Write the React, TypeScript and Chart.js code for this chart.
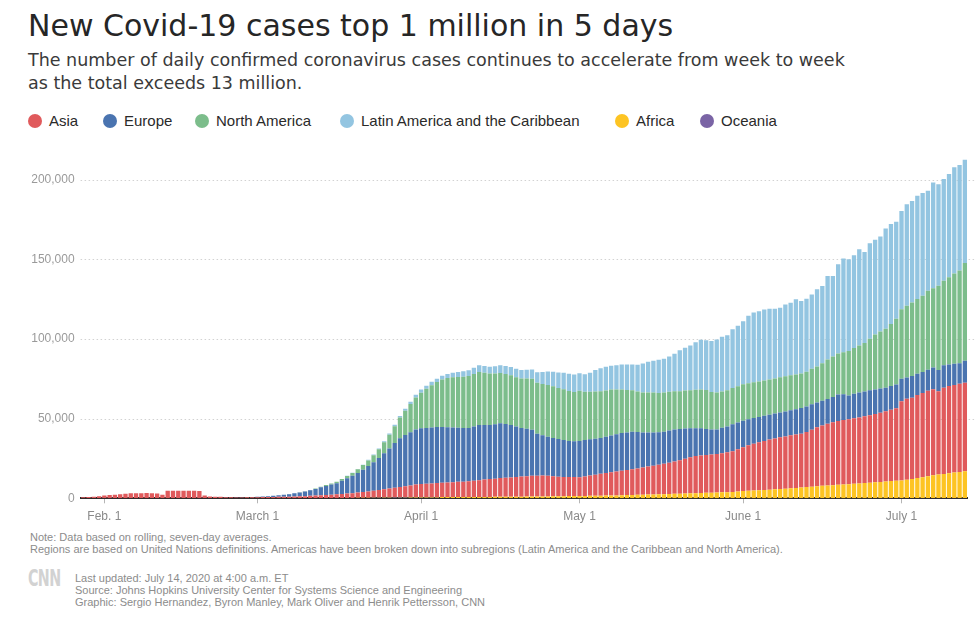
import { useEffect, useRef } from "react";
import { Chart, registerables } from "chart.js";

Chart.register(...registerables);

// Daily series, seven-day rolling averages, Jan 28 – Jul 13, 2020
const FIRST_DAY = Date.UTC(2020, 0, 28);
const DAY_COUNT = 168;

const MONTH_TICKS = ["Feb. 1", "March 1", "April 1", "May 1", "June 1", "July 1"];
const Y_TICKS = [0, 50000, 100000, 150000, 200000];

const asia = [
  600, 800, 1000, 1300, 1800, 2100, 2300, 2500, 2900, 3100, 3200, 3200, 3300, 3200, 3000, 2300, 4700, 4800, 4800, 4800, 4700, 4700, 4600, 1800, 1200, 1000, 900, 700, 600, 550, 550, 600, 650,
  700, 750, 800, 850, 900, 950, 1000, 1100, 1200, 1300, 1500, 1700, 1900, 2000, 2200, 2400, 2600, 2800, 3000, 3300, 3600, 3900, 4200, 4600, 5000, 5400, 5900, 6300, 6800, 7300, 7800,
  8200, 8400, 8500, 8800, 9000, 9100, 9400, 9600, 9700, 10000, 10300, 10500, 10900, 11200, 11400, 11800, 12000, 12100, 12400, 12600, 12700, 13000, 13100, 13200, 12900, 12600, 12300, 12100, 12000, 11900,
  11800, 12200, 12700, 13200, 13700, 14200, 14600, 15000, 15400, 15800, 16200, 16600, 17100, 17600, 18000, 18500, 19000, 19600, 20200, 21000, 21800, 22600, 23300, 23500, 23700, 23900, 24200, 24600, 25000, 25500, 26500,
  27500, 28500, 29300, 30100, 30800, 31400, 31900, 32400, 32800, 33200, 33500, 33800, 34500, 35800, 37000, 37900, 38700, 39500, 40100, 40400, 40700, 41100, 41500, 41900, 42300, 42800, 43400, 44000, 44700, 45500,
  49700, 50800, 51000, 52100, 52800, 53600, 54100, 52300, 54000, 54800, 55000, 55300, 55500,
];

const europe = [
  0, 1, 1, 2, 2, 2, 2, 2, 2, 3, 2, 2, 2, 1, 1, 1, 1, 1, 1, 1, 1, 1, 2, 2, 5, 15, 25, 40, 55, 70, 100, 135, 170,
  300, 380, 450, 700, 1000, 1300, 1600, 2000, 2400, 2900, 3500, 4100, 4900, 5700, 6300, 7000, 8200, 9600, 10900, 12300, 14000, 15900, 18000, 20200, 22700, 25200, 28000, 30600, 32100, 33400, 34600,
  34900, 35000, 35200, 35100, 35000, 34700, 34300, 33900, 33600, 33400, 34000, 34700, 34300, 34000, 34100, 34300, 33600, 32900, 31600, 30400, 29900, 28900, 26300, 25200, 24600, 24000, 23600, 23100, 22600, 22400,
  22750, 22900, 22760, 22500, 22500, 22700, 23050, 23400, 23600, 23500, 23500, 22850, 21950, 21350, 20900, 20400, 20100, 20200, 20100, 19500, 19000, 18300, 17500, 17200, 16400, 15700, 15400, 15900, 16250, 17000, 16800,
  16600, 16300, 16100, 15800, 15700, 15600, 15600, 15600, 15700, 15700, 15900, 16100, 16000, 16000, 15500, 15500, 15600, 15800, 16500, 16200, 14900, 15500, 15600, 15600, 15700, 15400, 15200, 14700, 14900, 14900,
  14100, 13400, 13500, 13300, 13200, 13200, 13500, 13300, 14200, 13400, 13300, 12900, 13800,
];

const northAmerica = [
  0, 0, 0, 0, 1, 1, 1, 1, 1, 1, 1, 1, 1, 0, 0, 0, 0, 0, 0, 0, 0, 1, 1, 1, 1, 1, 1, 1, 1, 1, 2, 3, 4,
  5, 8, 12, 18, 25, 35, 50, 70, 100, 140, 200, 280, 380, 500, 650, 850, 1100, 1400, 1800, 2300, 2900, 3600, 4400, 5400, 6800, 8600, 10600, 13000, 15300, 17600, 20000,
  22300, 24500, 26500, 28300, 29800, 30900, 31500, 31900, 32200, 32500, 32900, 33300, 32800, 32200, 31900, 31600, 31400, 31200, 31000, 31100, 31500, 32000, 32000, 32200, 32400, 32400, 32000, 31900, 31400, 30900,
  31400, 30300, 29800, 29700, 29400, 29100, 28900, 28100, 27300, 26700, 26000, 25400, 25100, 25000, 25000, 24700, 24600, 24300, 24100, 23800, 23800, 23800, 24100, 24300, 24400, 23500, 23100, 22800, 22700, 22700, 22800,
  22900, 22700, 22500, 22300, 22200, 22100, 22100, 22100, 22000, 21900, 21700, 21600, 21900, 22200, 22700, 23500, 24700, 25400, 25800, 26400, 28000, 28600, 29500, 30400, 32300, 34500, 35700, 37100, 39000, 41200,
  43600, 44900, 46200, 46800, 47800, 49500, 49800, 52900, 53000, 54800, 56600, 58100, 61400,
];

const latinAmerica = [
  0, 0, 0, 0, 0, 0, 0, 0, 0, 0, 0, 0, 0, 0, 0, 0, 0, 0, 0, 0, 0, 0, 0, 0, 0, 0, 0, 0, 0, 0, 1, 1, 1,
  1, 2, 2, 3, 4, 5, 6, 8, 10, 13, 17, 22, 30, 40, 55, 75, 100, 130, 170, 220, 280, 350, 430, 520, 620, 740, 880, 1050, 1250, 1500, 1750,
  2000, 2000, 2100, 2100, 2300, 2500, 2800, 3100, 3400, 3700, 4000, 4200, 4200, 4300, 4600, 4900, 5100, 5200, 5200, 5300, 5500, 5800, 6500, 7500, 8500, 9200, 9800, 10300, 10700, 11000,
  11000, 10900, 12000, 13500, 14300, 14900, 14900, 15200, 15700, 16000, 16200, 16800, 18200, 19300, 19900, 20800, 21300, 22200, 23500, 25700, 26800, 28000, 29800, 31200, 31200, 32100, 33300, 34300, 34500, 36800, 37900,
  39500, 42300, 43700, 44100, 44600, 44400, 43700, 43600, 45100, 45600, 47200, 45500, 45800, 46700, 48400, 48500, 52500, 50600, 56000, 58800, 57500, 58300, 60400, 57100, 60000, 59400, 59700, 62900, 62700, 60900,
  61600, 63700, 63700, 64800, 64400, 62700, 66400, 63700, 63800, 64700, 66600, 66300, 64800,
];

const africa = [
  0, 0, 0, 0, 0, 0, 0, 0, 0, 0, 0, 0, 0, 0, 0, 0, 0, 0, 0, 0, 0, 0, 0, 0, 0, 0, 0, 0, 0, 1, 1, 1, 1,
  1, 2, 2, 3, 4, 5, 6, 8, 10, 12, 15, 20, 25, 30, 38, 45, 55, 70, 85, 100, 120, 140, 165, 190, 220, 250, 280, 310, 340, 370, 400,
  430, 450, 470, 490, 510, 530, 560, 590, 620, 650, 690, 730, 770, 810, 850, 880, 910, 940, 970, 1000, 1030, 1060, 1090, 1120, 1160, 1200, 1250, 1300, 1350, 1400,
  1450, 1500, 1540, 1580, 1620, 1680, 1750, 1820, 1900, 1980, 2060, 2150, 2250, 2350, 2430, 2510, 2600, 2700, 2800, 2900, 3000, 3100, 3200, 3300, 3400, 3500, 3600, 3700, 3850, 4000, 4200,
  4500, 4700, 4900, 5100, 5200, 5400, 5600, 5800, 6000, 6300, 6500, 6700, 7000, 7200, 7500, 7800, 8000, 8200, 8400, 8600, 8800, 9000, 9200, 9500, 9700, 10000, 10200, 10500, 10700, 10900,
  11100, 11500, 12000, 12600, 13100, 13700, 14200, 14700, 15100, 15500, 15900, 16300, 16700,
];

const oceania = [
  0, 0, 1, 1, 1, 1, 1, 1, 1, 1, 1, 1, 1, 0, 0, 0, 0, 0, 0, 0, 0, 0, 0, 0, 0, 0, 0, 0, 0, 0, 1, 1, 1,
  2, 2, 3, 4, 5, 6, 8, 10, 12, 15, 20, 25, 30, 40, 50, 60, 80, 100, 130, 170, 210, 250, 300, 350, 390, 420, 440, 450, 440, 420, 390,
  360, 330, 300, 270, 240, 210, 180, 150, 120, 100, 80, 70, 60, 50, 45, 40, 35, 30, 30, 28, 26, 24, 22, 20, 20, 20, 18, 18, 16, 16,
  15, 15, 15, 14, 14, 14, 13, 13, 13, 12, 12, 12, 12, 11, 11, 11, 11, 12, 12, 12, 13, 13, 14, 15, 16, 17, 18, 18, 18, 19, 20,
  20, 20, 21, 21, 22, 22, 23, 24, 25, 26, 27, 28, 30, 32, 34, 36, 38, 40, 43, 46, 50, 55, 60, 66, 72, 80, 90, 100, 110, 120,
  130, 140, 150, 160, 170, 180, 190, 200, 210, 220, 230, 240, 250,
];

const COLORS = {
  asia: "#e05a5c",
  europe: "#4a74b0",
  northAmerica: "#7cbd8b",
  latinAmerica: "#93c5e1",
  africa: "#fdc423",
  oceania: "#7a64a5",
};

// Legend order as shown above the chart; left is the x offset of each swatch
const LEGEND = [
  { label: "Asia", color: COLORS.asia, left: 28 },
  { label: "Europe", color: COLORS.europe, left: 103 },
  { label: "North America", color: COLORS.northAmerica, left: 195 },
  { label: "Latin America and the Caribbean", color: COLORS.latinAmerica, left: 340 },
  { label: "Africa", color: COLORS.africa, left: 615 },
  { label: "Oceania", color: COLORS.oceania, left: 700 },
];

const days: string[] = Array.from({ length: DAY_COUNT }, (_, i) =>
  new Date(FIRST_DAY + i * 86400000).toISOString().slice(0, 10)
);

const monthLabel = (index: number): string => {
  const d = days[index];
  if (!d || !d.endsWith("-01")) return "";
  const m = parseInt(d.slice(5, 7), 10);
  return MONTH_TICKS[m - 2] ?? "";
};

const AXIS_FONT = "'Liberation Sans', Arial, sans-serif";

// Dotted horizontal guides, running a little past the last bar
const dottedGrid = {
  id: "dottedGrid",
  beforeDatasetsDraw(chart: any) {
    const { ctx, chartArea, scales } = chart;
    const y = scales.y;
    ctx.save();
    ctx.strokeStyle = "#d2d2d2";
    ctx.lineWidth = 1;
    ctx.setLineDash([1.5, 2.5]);
    y.ticks.forEach((t: any) => {
      if (t.value === 0) return;
      const py = Math.round(y.getPixelForValue(t.value)) + 0.5;
      ctx.beginPath();
      ctx.moveTo(chartArea.left, py);
      ctx.lineTo(chartArea.right + 9, py);
      ctx.stroke();
    });
    ctx.restore();
  },
};

function CasesChart() {
  const ref = useRef<HTMLCanvasElement | null>(null);

  useEffect(() => {
    if (!ref.current) return;
    const bar = (label: string, data: number[], color: string) => ({
      label,
      data,
      backgroundColor: color,
      borderWidth: 0,
      categoryPercentage: 1,
      barPercentage: 0.82,
    });
    const chart = new Chart(ref.current, {
      type: "bar",
      data: {
        labels: days,
        datasets: [
          bar("Oceania", oceania, COLORS.oceania),
          bar("Africa", africa, COLORS.africa),
          bar("Asia", asia, COLORS.asia),
          bar("Europe", europe, COLORS.europe),
          bar("North America", northAmerica, COLORS.northAmerica),
          bar("Latin America and the Caribbean", latinAmerica, COLORS.latinAmerica),
        ],
      },
      options: {
        animation: false,
        responsive: false,
        maintainAspectRatio: false,
        layout: { padding: { top: 15.6, right: 12.5, bottom: 0, left: 0 } },
        plugins: {
          legend: { display: false },
          tooltip: { enabled: false },
        },
        scales: {
          x: {
            stacked: true,
            offset: true,
            z: 1,
            grid: {
              display: true,
              drawOnChartArea: false,
              drawTicks: true,
              tickLength: 5,
              offset: false,
              tickWidth: 1,
              tickColor: (c: any) => (monthLabel(c.index) ? "#b5b5b5" : "rgba(0,0,0,0)"),
            },
            border: { display: true, color: "#2a2a2a", width: 2 },
            ticks: {
              autoSkip: false,
              maxRotation: 0,
              minRotation: 0,
              padding: 6,
              color: "#8a8a8a",
              font: { family: AXIS_FONT, size: 12 },
              callback: (_v: any, index: number) => monthLabel(index),
            },
            afterFit: (s: any) => {
              s.height = 31.7;
            },
          },
          y: {
            stacked: true,
            min: 0,
            max: 215000,
            grid: { display: false, drawTicks: false },
            border: { display: false },
            ticks: {
              stepSize: 50000,
              padding: 6,
              color: "#9a9a9a",
              font: { family: AXIS_FONT, size: 12 },
              callback: (v: any) => Number(v).toLocaleString("en-US"),
            },
            afterBuildTicks: (s: any) => {
              s.ticks = Y_TICKS.map((value) => ({ value }));
            },
            afterFit: (s: any) => {
              s.width = 80.6;
            },
          },
        },
      } as any,
      plugins: [dottedGrid],
    });
    return () => chart.destroy();
  }, []);

  return (
    <canvas
      ref={ref}
      width={980}
      height={390}
      style={{ position: "absolute", left: 0, top: 140, width: 980, height: 390 }}
    />
  );
}

const footStyle = {
  position: "absolute" as const,
  fontFamily: AXIS_FONT,
  fontSize: 11,
  lineHeight: "12px",
  color: "#8c8c8c",
  whiteSpace: "nowrap" as const,
};

export default function App() {
  return (
    <div
      style={{
        position: "absolute",
        left: 0,
        top: 0,
        width: 980,
        height: 630,
        background: "#ffffff",
        overflow: "hidden",
      }}
    >
      <div
        style={{
          position: "absolute",
          left: 28,
          top: 11,
          fontFamily: "'DejaVu Sans', sans-serif",
          fontSize: 30,
          lineHeight: "30px",
          color: "#262626",
          whiteSpace: "nowrap",
        }}
      >
        New Covid-19 cases top 1 million in 5 days
      </div>
      <div
        style={{
          position: "absolute",
          left: 28,
          top: 49,
          fontFamily: "'DejaVu Sans', sans-serif",
          fontSize: 17.5,
          lineHeight: "23.3px",
          color: "#3a3a3a",
          whiteSpace: "nowrap",
        }}
      >
        The number of daily confirmed coronavirus cases continues to accelerate from week to week
        <br />
        as the total exceeds 13 million.
      </div>

      {LEGEND.map((item) => (
        <div
          key={item.label}
          style={{
            position: "absolute",
            left: item.left,
            top: 112.5,
            height: 16,
            display: "flex",
            alignItems: "center",
            whiteSpace: "nowrap",
          }}
        >
          <span
            style={{
              width: 14,
              height: 14,
              borderRadius: "50%",
              background: item.color,
              marginRight: 7,
              flex: "none",
            }}
          />
          <span
            style={{
              fontFamily: AXIS_FONT,
              fontSize: 15,
              lineHeight: "16px",
              color: "#2a2a2a",
            }}
          >
            {item.label}
          </span>
        </div>
      ))}

      <CasesChart />

      <div style={{ ...footStyle, left: 30, top: 531 }}>
        Note: Data based on rolling, seven-day averages.
      </div>
      <div style={{ ...footStyle, left: 30, top: 543 }}>
        Regions are based on United Nations definitions. Americas have been broken down into subregions (Latin America and the Caribbean and North America).
      </div>

      <div
        style={{
          position: "absolute",
          left: 28,
          top: 566,
          fontFamily: "'DejaVu Sans', sans-serif",
          fontWeight: 700,
          fontSize: 23,
          lineHeight: "24px",
          color: "#d2d2d2",
          transform: "scaleX(0.62)",
          transformOrigin: "left top",
          letterSpacing: "-1px",
        }}
      >
        CNN
      </div>
      <div style={{ ...footStyle, left: 75, top: 572 }}>
        Last updated: July 14, 2020 at 4:00 a.m. ET
      </div>
      <div style={{ ...footStyle, left: 75, top: 584 }}>
        Source: Johns Hopkins University Center for Systems Science and Engineering
      </div>
      <div style={{ ...footStyle, left: 75, top: 596 }}>
        Graphic: Sergio Hernandez, Byron Manley, Mark Oliver and Henrik Pettersson, CNN
      </div>
    </div>
  );
}
